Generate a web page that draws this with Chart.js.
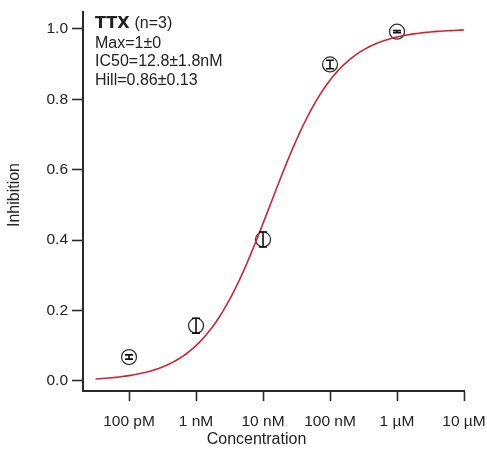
<!DOCTYPE html>
<html>
<head>
<meta charset="utf-8">
<script src="https://cdn.jsdelivr.net/npm/chart.js@4.4.1/dist/chart.umd.min.js"></script>
<style>
  html, body { margin: 0; padding: 0; background: #fff; }
  #wrap { width: 487px; height: 449px; }
</style>
</head>
<body>
<div id="wrap"><canvas id="ttxChart" width="487" height="449"></canvas></div>
<script>
// TTX block, mean +/- SEM (n=3)
var concentrations = [1e-10, 1e-9, 1e-8, 1e-7, 1e-6];
var inhibition = [0.068, 0.157, 0.402, 0.899, 0.992];
var inhibitionErr = [0.006, 0.021, 0.021, 0.012, 0.003];

// Hill fit parameters, same numbers as the text block
var fitMax = 1;
var fitIC50 = 12.8e-9;
var fitHill = 0.86;

var xTickValues = [1e-10, 1e-9, 1e-8, 1e-7, 1e-6, 1e-5];
var xTickLabels = ['100 pM', '1 nM', '10 nM', '100 nM', '1 µM', '10 µM'];
var yTickValues = [0, 0.2, 0.4, 0.6, 0.8, 1.0];

var infoLines = ['Max=1±0', 'IC50=12.8±1.8nM', 'Hill=0.86±0.13'];

var axisColor = '#2b2b2b';
var textColor = '#222';
var fontFamily = '"Liberation Sans", Arial, sans-serif';

// fitted curve, evaluated every 0.05 decade
var fitPoints = [];
for (var lg = -10.5; lg <= -5.0001; lg += 0.05) {
    var c = Math.pow(10, lg);
    fitPoints.push({ x: c, y: fitMax / (1 + Math.pow(fitIC50 / c, fitHill)) });
}
fitPoints.push({ x: 1e-5, y: fitMax / (1 + Math.pow(fitIC50 / 1e-5, fitHill)) });

var meanPoints = concentrations.map((c, i) => ({ x: c, y: inhibition[i] }));

var errorBars = {
    id: 'errorBars',
    afterDatasetsDraw(chart) {
        var ctx = chart.ctx;
        var xs = chart.scales.x, ys = chart.scales.y;
        ctx.save();
        ctx.strokeStyle = '#111';
        ctx.lineWidth = 1.6;
        concentrations.forEach((c, i) => {
            var px = xs.getPixelForValue(c);
            var top = ys.getPixelForValue(inhibition[i] + inhibitionErr[i]);
            var bot = ys.getPixelForValue(inhibition[i] - inhibitionErr[i]);
            ctx.beginPath();
            ctx.moveTo(px, top); ctx.lineTo(px, bot);
            ctx.moveTo(px - 4, top); ctx.lineTo(px + 4, top);
            ctx.moveTo(px - 4, bot); ctx.lineTo(px + 4, bot);
            ctx.stroke();
        });
        ctx.restore();
    }
};

// axis titles and the fit summary in the top-left corner
var labels = {
    id: 'labels',
    afterDraw(chart) {
        var ctx = chart.ctx;
        var x = chart.chartArea.left + 12;
        ctx.save();
        ctx.fillStyle = textColor;
        ctx.textBaseline = 'middle';
        ctx.font = 'bold 16px "DejaVu Sans", sans-serif';
        ctx.fillText('TTX', x, 24);
        var w = ctx.measureText('TTX').width;
        ctx.font = '16px ' + fontFamily;
        ctx.fillText('(n=3)', x + w + 5, 24);
        infoLines.forEach((t, i) => ctx.fillText(t, x, 43.5 + i * 18.5));

        ctx.textAlign = 'center';
        ctx.fillText('Concentration', 256.5, 440);
        ctx.translate(15, 195);
        ctx.rotate(-Math.PI / 2);
        ctx.fillText('Inhibition', 0, 0);
        ctx.restore();
    }
};

new Chart('ttxChart', {
    type: 'scatter',
    data: {
        datasets: [{
            type: 'line',
            label: 'Hill fit',
            data: fitPoints,
            borderColor: '#cf2331',
            borderWidth: 1.6,
            pointRadius: 0,
            fill: false,
            tension: 0
        }, {
            label: 'TTX',
            data: meanPoints,
            pointStyle: 'circle',
            pointRadius: 7.5,
            borderColor: '#333',
            borderWidth: 1.3,
            backgroundColor: 'rgba(255,255,255,0)'
        }]
    },
    options: {
        responsive: false,
        animation: false,
        devicePixelRatio: 1,
        layout: { padding: { top: 12, right: 23, left: 0, bottom: 0 } },
        plugins: { legend: { display: false }, tooltip: { enabled: false } },
        scales: {
            x: {
                type: 'logarithmic',
                position: 'bottom',
                min: Math.pow(10, -10.687),
                max: 1e-5,
                afterBuildTicks: (scale) => { scale.ticks = xTickValues.map(v => ({ value: v })); },
                afterFit: (scale) => {
                    scale.height = 58;
                    scale.paddingLeft = 0;
                    scale.paddingRight = 0;
                },
                grid: { drawOnChartArea: false, drawTicks: true, tickLength: 10, tickColor: axisColor, tickWidth: 1.6 },
                border: { color: axisColor, width: 2 },
                ticks: {
                    autoSkip: false,
                    maxRotation: 0,
                    padding: 11,
                    color: textColor,
                    font: { family: fontFamily, size: 15.5 },
                    callback: (v) => {
                        var i = xTickValues.findIndex(t => Math.abs(Math.log10(t) - Math.log10(v)) < 1e-6);
                        return i < 0 ? '' : xTickLabels[i];
                    }
                }
            },
            y: {
                min: -0.0285,
                max: 1.048,
                afterBuildTicks: (scale) => { scale.ticks = yTickValues.map(v => ({ value: v })); },
                afterFit: (scale) => {
                    scale.width = 83;
                    scale.paddingTop = 0;
                    scale.paddingBottom = 0;
                },
                grid: { drawOnChartArea: false, drawTicks: true, tickLength: 11, tickColor: axisColor, tickWidth: 1.6 },
                border: { color: axisColor, width: 2 },
                ticks: {
                    padding: 4,
                    color: textColor,
                    font: { family: fontFamily, size: 15.5 },
                    callback: (v) => v.toFixed(1)
                }
            }
        }
    },
    plugins: [errorBars, labels]
});
</script>
</body>
</html>
